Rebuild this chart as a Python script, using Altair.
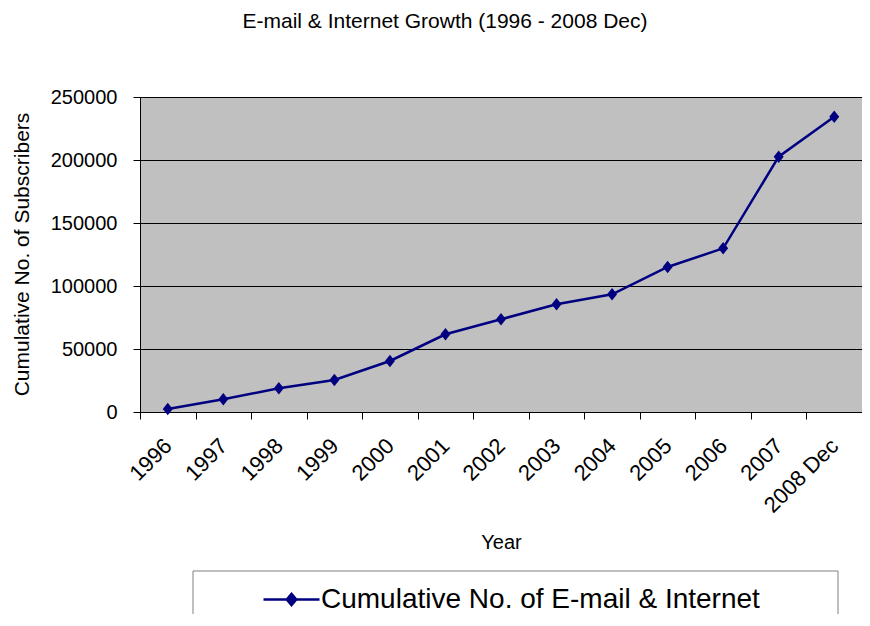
import altair as alt
import pandas as pd

years = ["1996", "1997", "1998", "1999", "2000", "2001", "2002", "2003",
         "2004", "2005", "2006", "2007", "2008 Dec"]
subscribers = [2400, 10100, 18800, 25400, 40500, 61700, 73600, 85500,
               93400, 115100, 129900, 202600, 234400]
series_name = "Cumulative No. of E-mail & Internet"
y_ticks = [0, 50000, 100000, 150000, 200000, 250000]

df = pd.DataFrame({"Year": years, "Subscribers": subscribers, "series": series_name})

FONT = "Liberation Sans"
NAVY = "#000080"

diamond = "M0,-1.25L1,0L0,1.25L-1,0Z"
legend_symbol = "M-1,0H1M0,-0.2L0.17,0L0,0.2L-0.17,0Z"

x_enc = alt.X("Year:N", sort=years, bandPosition=0.5,
              scale=alt.Scale(type="band", paddingInner=0, paddingOuter=0),
              axis=alt.Axis(title="Year", tickBand="extent", labelAngle=-45,
                            labelAlign="right", labelBaseline="middle",
                            labelFontSize=22, labelFont=FONT, labelColor="#000",
                            labelPadding=23, tickSize=7, tickColor="#000",
                            domainColor="#000", titleFont=FONT, titleFontSize=20,
                            titleFontWeight="normal", titleColor="#000",
                            titleX=361, titleY=130, titleBaseline="middle",
                            titleAlign="center", grid=False))
y_enc = alt.Y("Subscribers:Q",
              scale=alt.Scale(domain=[0, 250000], nice=False),
              axis=alt.Axis(title="Cumulative No. of Subscribers", values=y_ticks,
                            format="d", labelFontSize=20, labelFont=FONT,
                            labelColor="#000", labelPadding=16, tickSize=7,
                            tickColor="#000", domainColor="#000", grid=True,
                            gridColor="#000", gridWidth=1, titleFont=FONT,
                            titleFontSize=21, titleFontWeight="normal",
                            titleColor="#000", titleX=-118, titleY=157,
                            titleAngle=-90, titleAlign="center",
                            titleBaseline="middle"))

line = alt.Chart(df).mark_line(strokeWidth=2.5).encode(
    x=x_enc, y=y_enc,
    color=alt.Color("series:N", scale=alt.Scale(range=[NAVY]),
                    legend=alt.Legend(title=None, orient="none", legendX=122,
                                      legendY=473, symbolType=legend_symbol,
                                      symbolSize=3136, symbolStrokeWidth=2.5,
                                      symbolFillColor=NAVY, symbolStrokeColor=NAVY,
                                      labelFontSize=28, labelFont=FONT,
                                      labelColor="#000", labelLimit=0,
                                      labelOffset=0, padding=0)),
)

points = alt.Chart(df).mark_point(
    shape=diamond, size=100, filled=True, color=NAVY, opacity=1
).encode(x=x_enc, y=y_enc)

box = alt.Chart(alt.Data(values=[{}])).mark_rect(
    fill="white", stroke="#808080", strokeWidth=1
).encode(
    x=alt.value(53), x2=alt.value(698), y=alt.value(474), y2=alt.value(560)
)

chart = alt.layer(box, line, points).properties(
    width=722, height=315,
    autosize=alt.AutoSizeParams(type="none"),
    padding={"left": 132, "top": 89, "right": 0, "bottom": 202},
    title=alt.TitleParams(
        "E-mail & Internet Growth (1996 - 2008 Dec)",
        font=FONT, fontSize=21, fontWeight="normal", color="#000",
        anchor="middle", dx=-56, offset=55,
    ),
).configure(
    background="white",
    view=alt.ViewConfig(fill="#C0C0C0", stroke="#808080", strokeWidth=1),
)

chart.save("out.html", embed_options={"renderer": "svg", "actions": False})
